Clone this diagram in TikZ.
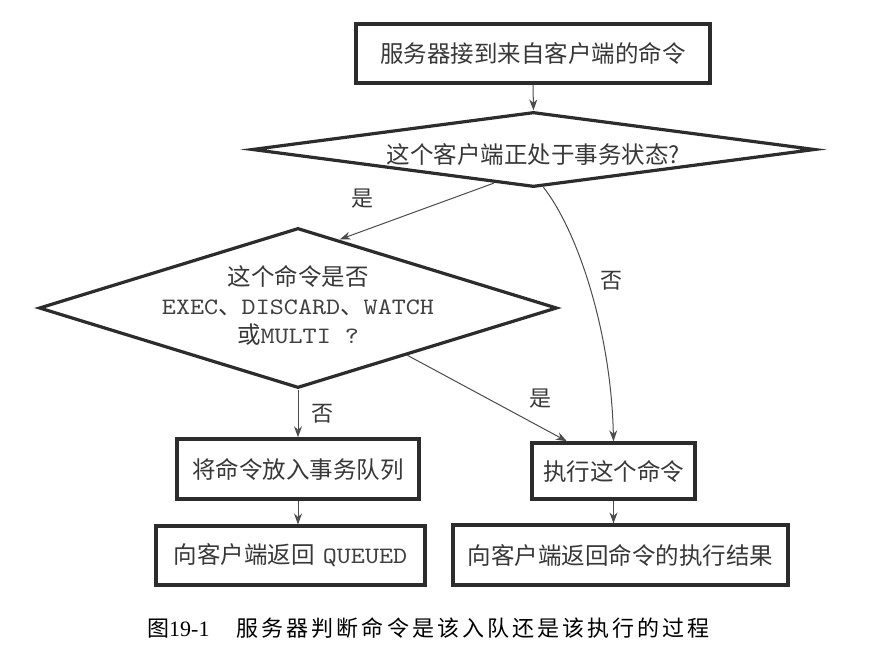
\documentclass[tikz,border=0pt]{standalone}
\usepackage{fontspec}
\usetikzlibrary{shapes.geometric,arrows.meta,calc}
\newfontfamily\cjk{Noto Sans CJK SC}
\newfontfamily\mono[FakeStretch=1.14]{lmmono10-regular.otf}
\newfontfamily\capfont[LetterSpace=14]{Noto Sans CJK SC}
\newfontfamily\capnum{Liberation Serif}
\definecolor{ink}{HTML}{2C2C2C}
\definecolor{txt}{HTML}{383838}
\definecolor{mtxt}{HTML}{404040}
\begin{document}
\begin{tikzpicture}[x=1pt,y=-1pt,
  box/.style={draw=ink, line width=3.5pt, rectangle, inner sep=0pt},
  thinbox/.style={draw=ink, line width=3.1pt, rectangle, inner sep=0pt},
  dia/.style={draw=ink, line width=3.2pt, diamond, inner sep=0pt},
  lbl/.style={font=\cjk\fontsize{23.5}{29}\selectfont, text=txt, inner sep=0pt},
  yn/.style={font=\cjk\fontsize{22}{26}\selectfont, text=txt, inner sep=0pt},
  conn/.style={draw=ink!85, line width=1pt, -{Stealth[length=11pt,width=8pt]}},
]
\fill[white] (0,0) rectangle (887,656);
\useasboundingbox (0,0) rectangle (887,656);

% boxes
\node[box, lbl, minimum width=354pt, minimum height=59pt] (top) at (533,53.5) {服务器接到来自客户端的命令};
\node[box, lbl, minimum width=242pt, minimum height=60pt] (queue) at (298,469) {将命令放入事务队列};
\node[thinbox, lbl, minimum width=269pt, minimum height=59pt] (queued) at (290.5,555.5) {向客户端返回\hspace{8pt}{\mono\color{mtxt}QUEUED}};
\node[box, lbl, minimum width=163pt, minimum height=56pt] (exec) at (613.5,471) {执行这个命令};
\node[thinbox, lbl, minimum width=335pt, minimum height=60pt] (result) at (620.5,555) {向客户端返回命令的执行结果};

% diamonds
\node[dia, minimum width=563pt, minimum height=75pt] (d1) at (533.5,149.5) {};
\node[lbl] (d1txt) at (533.5,155) {这个客户端正处于事务状态?};
\node[dia, minimum width=518pt, minimum height=160pt] (d2) at (298,308) {};
\node[lbl, align=center] (d2txt) at (298,305) {这个命令是否\\{\mono\color{mtxt}EXEC}、{\mono\color{mtxt}DISCARD}、{\mono\color{mtxt}WATCH}\\或{\mono\color{mtxt}MULTI ?}};

% connectors
\draw[conn] (top.south) -- (d1.north);
\draw[conn] ($(d1.south)!0.14!(d1.west)$) -- ($(d2.north)!0.16!(d2.east)$);
\draw[conn] ($(d1.south)!0.035!(d1.east)$) .. controls (577,230) and (611,330) .. (exec.north);
\draw[conn] ($(d2.east)!0.58!(d2.south)$) -- ($(exec.north west)!0.22!(exec.north east)$);
\draw[conn] (d2.south) -- (queue.north);
\draw[conn] (queue.south) -- (queue.south |- queued.north);
\draw[conn] (exec.south) -- (exec.south |- result.north);

% labels
\node[yn] (y1) at (362,199) {是};
\node[yn] (n1) at (611,281) {否};
\node[yn] (y2) at (540,399) {是};
\node[yn] (n2) at (322,414) {否};

% caption
\node[anchor=west, inner sep=0pt, text=black, font=\fontsize{22}{25}\selectfont] (cap) at (147,628)
  {{\cjk 图}{\capnum 19-1}\hspace{27pt}{\capfont 服务器判断命令是该入队还是该执行的过程}};
\end{tikzpicture}
\end{document}
